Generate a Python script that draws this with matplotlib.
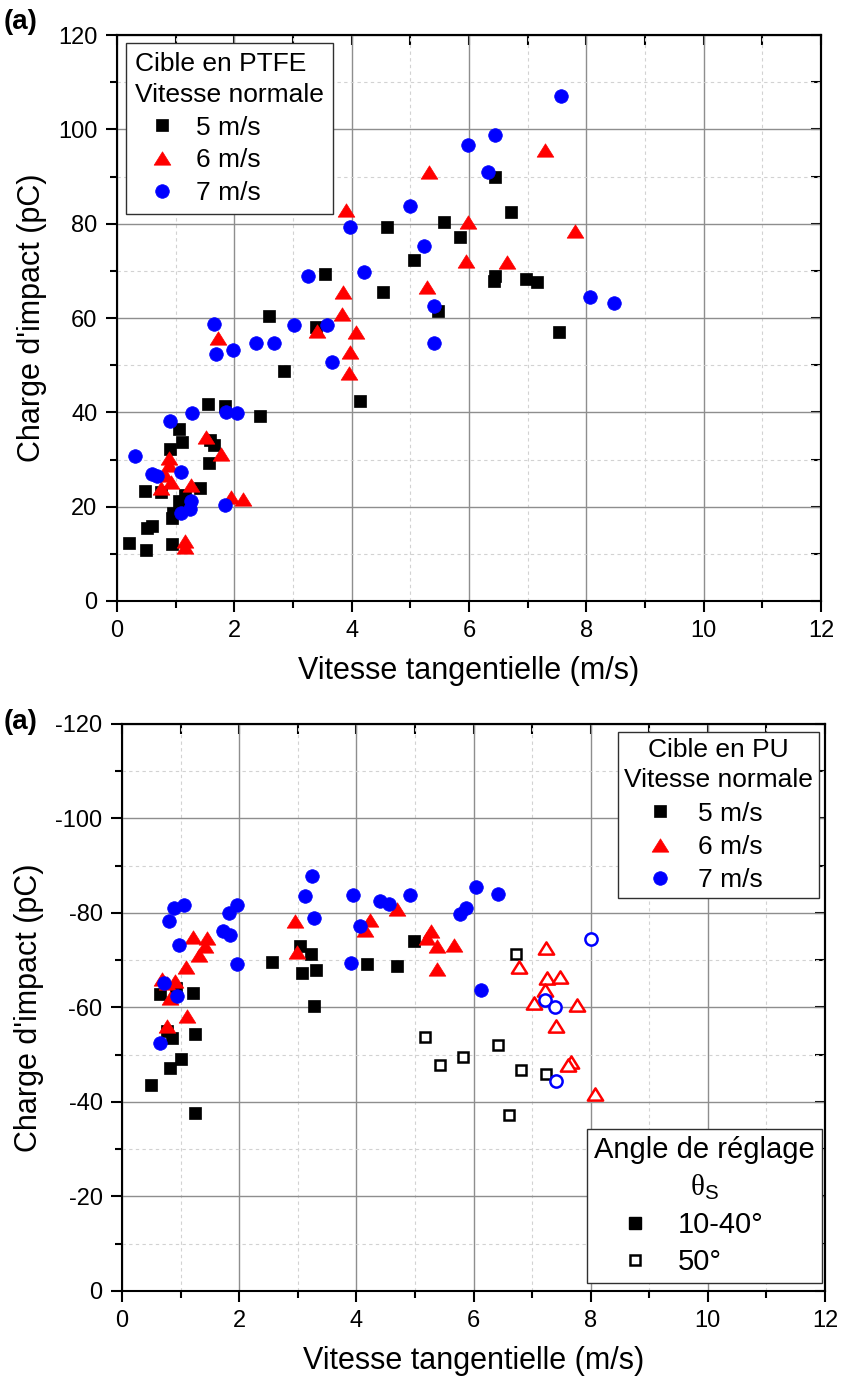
import numpy as np
import matplotlib.pyplot as plt
from matplotlib.ticker import MultipleLocator
from matplotlib.lines import Line2D
from matplotlib.path import Path

plt.rcParams["font.family"] = ["Liberation Sans", "DejaVu Sans"]
plt.rcParams["mathtext.fontset"] = "custom"
plt.rcParams["mathtext.rm"] = "Liberation Sans"
plt.rcParams["mathtext.sf"] = "Liberation Serif"
plt.rcParams["axes.unicode_minus"] = False

# ---- top plot : cible en PTFE ----
ptfe_5_x = [0.20, 0.47, 0.49, 0.51, 0.59, 0.75, 0.90, 0.93, 0.93, 0.96, 1.06, 1.06, 1.10,
            1.16, 1.42, 1.55, 1.56, 1.59, 1.66, 1.84, 2.44, 2.59, 2.84, 3.40, 3.54, 4.14,
            4.53, 4.61, 5.06, 5.47, 5.58, 5.85, 6.43, 6.45, 6.45, 6.72, 6.98, 7.16, 7.53]
ptfe_5_y = [12.4, 23.3, 10.8, 15.4, 15.9, 23.2, 32.2, 17.7, 12.0, 18.6, 21.2, 36.4, 33.8,
            22.5, 23.9, 41.8, 29.3, 34.1, 33.1, 41.3, 39.2, 60.4, 48.8, 58.2, 69.3, 42.5,
            65.6, 79.2, 72.4, 61.5, 80.3, 77.2, 67.9, 69.0, 89.8, 82.5, 68.2, 67.6, 57.1]

ptfe_6_x = [0.75, 0.82, 0.88, 0.89, 0.92, 1.16, 1.16, 1.26, 1.51, 1.72, 1.77, 1.95, 2.14,
            3.41, 3.83, 3.86, 3.90, 3.96, 3.98, 4.08, 5.28, 5.31, 5.95, 5.98, 6.65, 7.30, 7.80]
ptfe_6_y = [23.9, 26.7, 30.3, 28.9, 25.2, 12.8, 11.4, 24.6, 34.8, 55.7, 31.2, 22.1, 21.6,
            57.3, 60.8, 65.6, 83.0, 48.4, 52.9, 57.1, 66.5, 91.0, 72.1, 80.3, 71.9, 95.6, 78.5]

ptfe_7_x = [0.30, 0.59, 0.68, 0.91, 1.09, 1.09, 1.25, 1.27, 1.28, 1.65, 1.68, 1.84, 1.86,
            1.97, 2.04, 2.37, 2.68, 3.01, 3.25, 3.58, 3.67, 3.98, 4.21, 4.99, 5.23, 5.40,
            5.41, 5.99, 6.32, 6.45, 7.56, 8.07, 8.47]
ptfe_7_y = [30.7, 26.9, 26.4, 38.1, 27.4, 18.6, 19.5, 21.2, 39.8, 58.7, 52.3, 20.4, 40.0,
            53.2, 39.9, 54.8, 54.6, 58.5, 69.0, 58.5, 50.7, 79.2, 69.8, 83.7, 75.2, 62.5,
            54.6, 96.6, 90.9, 98.9, 107.1, 64.4, 63.2]

# ---- bottom plot : cible en PU (filled = 10-40 deg, open = 50 deg) ----
pu_5_x = [0.50, 0.82, 1.00, 0.85, 0.76, 1.24, 1.24, 0.64, 0.92, 1.22, 2.56, 3.04, 3.23,
          3.08, 3.31, 3.28, 4.18, 4.69, 4.99]
pu_5_y = [-43.5, -47.1, -49.0, -53.5, -55.0, -54.4, -37.7, -62.8, -64.2, -63.0, -69.6,
          -73.0, -71.4, -67.4, -67.9, -60.3, -69.3, -68.8, -74.1]
pu_5_open_x = [5.17, 5.43, 5.82, 6.42, 6.72, 6.81, 7.23, 6.61]
pu_5_open_y = [-53.8, -47.8, -49.5, -52.0, -71.3, -46.7, -46.0, -37.3]

pu_6_x = [2.95, 2.99, 4.23, 4.15, 4.69, 5.28, 5.20, 5.38, 5.37, 5.67, 1.22, 1.45, 1.41,
          1.31, 1.09, 0.68, 0.90, 0.76, 0.82, 1.11, 0.77]
pu_6_y = [-78.3, -71.8, -78.6, -76.5, -80.8, -76.2, -74.8, -73.0, -68.2, -73.2, -74.9,
          -74.8, -73.1, -71.1, -68.5, -66.1, -65.6, -65.2, -62.0, -58.3, -56.0]
pu_6_open_x = [7.24, 6.77, 7.25, 7.47, 7.22, 7.03, 7.77, 7.41, 7.66, 7.62, 8.07]
pu_6_open_y = [-72.6, -68.5, -66.3, -66.4, -63.8, -61.0, -60.6, -56.0, -48.4, -47.9, -41.6]

pu_7_x = [3.24, 3.13, 3.28, 3.94, 4.06, 3.90, 4.41, 4.56, 4.91, 5.77, 5.87, 0.88, 1.06,
          0.81, 1.83, 1.97, 1.73, 1.85, 0.97, 1.96, 0.72, 0.93, 0.65, 6.05, 6.42, 6.12]
pu_7_y = [-87.8, -83.6, -79.0, -83.9, -77.2, -69.5, -82.5, -82.0, -83.9, -79.7, -81.1,
          -81.1, -81.7, -78.4, -79.9, -81.6, -76.2, -75.3, -73.2, -69.1, -65.1, -62.4,
          -52.5, -85.6, -84.1, -63.6]
pu_7_open_x = [8.00, 7.22, 7.39, 7.41]
pu_7_open_y = [-74.4, -61.5, -60.1, -44.5]

speed_labels = ["5 m/s", "6 m/s", "7 m/s"]
angle_labels = ["10-40°", "50°"]

# triangle a bit wider than tall, like Origin
tri = Path([(0, 0.8), (-1, -0.8), (1, -0.8), (0, 0.8)], closed=True)
styles = [dict(marker="s", ms=8.8, color="black"),
          dict(marker=tri, ms=12, color="red"),
          dict(marker="o", ms=9.8, color="blue")]


def style_axes(ax, ylim):
    ax.set_xlim(0, 12)
    ax.set_ylim(*ylim)
    ax.xaxis.set_major_locator(MultipleLocator(2))
    ax.xaxis.set_minor_locator(MultipleLocator(1))
    ax.yaxis.set_major_locator(MultipleLocator(20))
    ax.yaxis.set_minor_locator(MultipleLocator(10))
    ax.grid(which="major", color="#8e8e8e", lw=1.0)
    ax.grid(which="minor", color="#d2d2d2", lw=0.8, ls=(0, (3, 3)))
    ax.set_axisbelow(True)
    ax.tick_params(which="both", direction="out", width=1.5, labelsize=17, pad=6)
    ax.tick_params(which="major", length=8)
    ax.tick_params(which="minor", length=5)
    for s in ax.spines.values():
        s.set_linewidth(1.5)
    # mirror ticks pointing inward on top and right
    top = ax.secondary_xaxis("top")
    top.xaxis.set_major_locator(MultipleLocator(2))
    top.xaxis.set_minor_locator(MultipleLocator(1))
    top.tick_params(which="both", direction="in", width=1.5, length=7, labeltop=False)
    right = ax.secondary_yaxis("right")
    right.yaxis.set_major_locator(MultipleLocator(20))
    right.yaxis.set_minor_locator(MultipleLocator(10))
    right.tick_params(which="both", direction="in", width=1.5, length=7, labelright=False)
    for sec in (top, right):
        for s in sec.spines.values():
            s.set_linewidth(1.5)
    ax.set_xlabel("Vitesse tangentielle (m/s)", fontsize=22, labelpad=10)
    ax.set_ylabel("Charge d'impact (pC)", fontsize=22, labelpad=8)


def frame(leg):
    leg.get_frame().set_linewidth(1.0)
    leg.get_frame().set_edgecolor("#303030")


fig = plt.figure(figsize=(8.41, 13.8), dpi=100)
ax1 = fig.add_axes([0.1391, 0.5645, 0.8371, 0.4101])
ax2 = fig.add_axes([0.1451, 0.0645, 0.8359, 0.4109])

# top
for xs, ys, st, lab in zip([ptfe_5_x, ptfe_6_x, ptfe_7_x], [ptfe_5_y, ptfe_6_y, ptfe_7_y],
                           styles, speed_labels):
    ax1.plot(xs, ys, ls="none", marker=st["marker"], ms=st["ms"], color=st["color"],
             mec=st["color"], mew=0.5, label=lab)
style_axes(ax1, (0, 120))
leg1 = ax1.legend(loc="upper left", bbox_to_anchor=(0.0128, 0.986), borderaxespad=0,
                  title="Cible en PTFE\nVitesse normale", alignment="left",
                  fontsize=19, title_fontsize=19, fancybox=False, framealpha=1,
                  borderpad=0.35, labelspacing=0.33, handlelength=2.0, handletextpad=0.32)
leg1.get_title().set_linespacing(1.35)
frame(leg1)

# bottom
filled = [(pu_5_x, pu_5_y), (pu_6_x, pu_6_y), (pu_7_x, pu_7_y)]
opened = [(pu_5_open_x, pu_5_open_y), (pu_6_open_x, pu_6_open_y), (pu_7_open_x, pu_7_open_y)]
handles = []
for (fx, fy), (ox, oy), st, lab in zip(filled, opened, styles, speed_labels):
    h, = ax2.plot(fx, fy, ls="none", marker=st["marker"], ms=st["ms"], color=st["color"],
                  mec=st["color"], mew=0.5, label=lab)
    ax2.plot(ox, oy, ls="none", marker=st["marker"], ms=st["ms"] - 1, mfc="white",
             mec=st["color"], mew=1.8)
    handles.append(h)
style_axes(ax2, (0, -120))

leg2 = ax2.legend(handles=handles, loc="upper right", bbox_to_anchor=(0.991, 0.986),
                  borderaxespad=0, title="Cible en PU\nVitesse normale", alignment="left",
                  fontsize=19, title_fontsize=19, fancybox=False, framealpha=1,
                  borderpad=0.22, labelspacing=0.35, handlelength=2.7, handletextpad=0.12)
leg2.get_title().set_multialignment("center")
leg2.get_title().set_linespacing(1.35)
frame(leg2)
ax2.add_artist(leg2)

angle_handles = [Line2D([], [], ls="none", marker="s", ms=8.8, color="black"),
                 Line2D([], [], ls="none", marker="s", ms=7.8, mfc="white", mec="black", mew=1.8)]
leg3 = ax2.legend(angle_handles, angle_labels, loc="lower right",
                  bbox_to_anchor=(0.9964, 0.014), borderaxespad=0,
                  title="Angle de réglage\n$\\mathsf{\\theta}_\\mathrm{S}$", alignment="left",
                  fontsize=21, title_fontsize=21, fancybox=False, framealpha=1,
                  borderpad=0.25, labelspacing=0.3, handlelength=2.75, handletextpad=0.1)
leg3.get_title().set_multialignment("center")
leg3.get_title().set_linespacing(1.35)
frame(leg3)

fig.text(0.004, 1 - 22 / 1380, "(a)", fontsize=20, fontweight="bold", va="center")
fig.text(0.004, 1 - 722 / 1380, "(a)", fontsize=20, fontweight="bold", va="center")

fig.savefig("out.png", dpi=100)
